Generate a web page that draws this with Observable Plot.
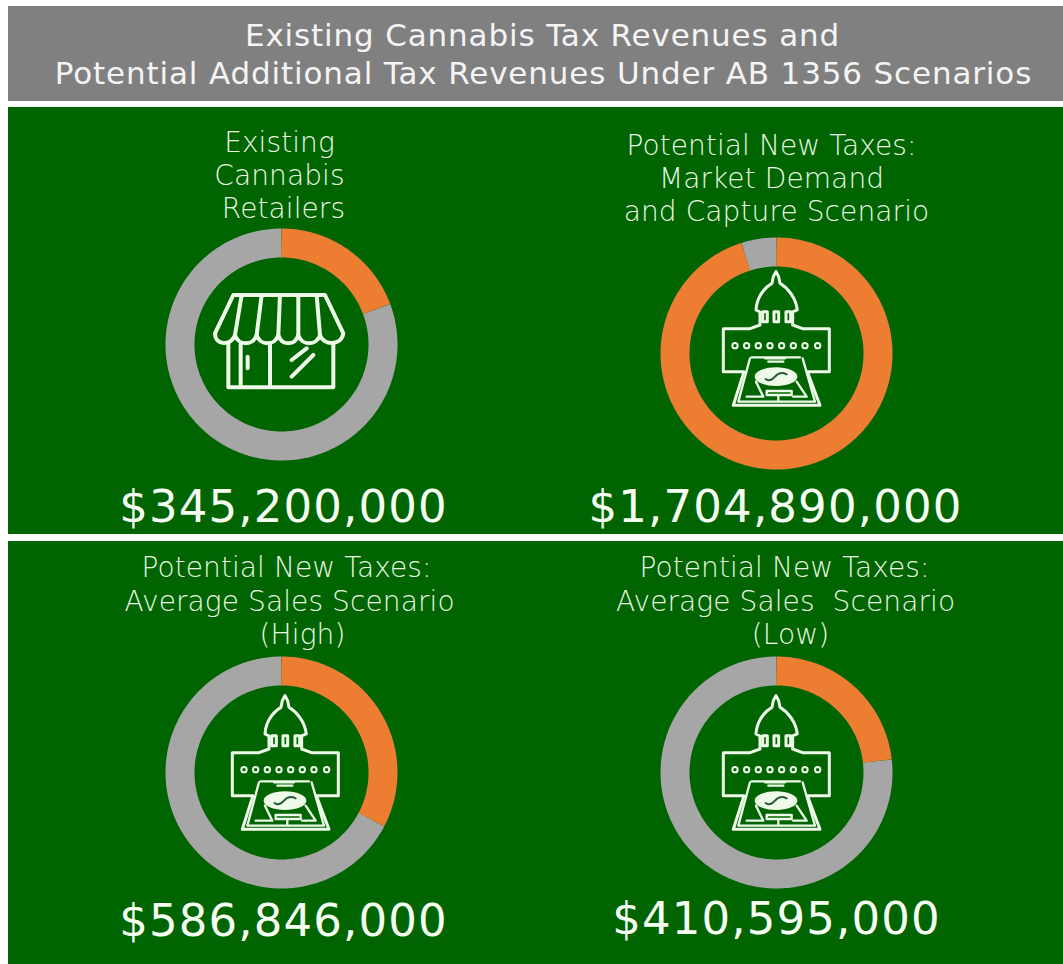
<!DOCTYPE html>
<html>
<head>
<meta charset="utf-8">
<script src="https://cdn.jsdelivr.net/npm/d3@7"></script>
<script src="https://cdn.jsdelivr.net/npm/@observablehq/plot@0.6"></script>
<style>
html,body{margin:0;padding:0;background:#fff}svg{display:block}
.ttl text{letter-spacing:0.85px}
.sub text{letter-spacing:0.1px}
.amt text{letter-spacing:1.15px}
</style>
</head>
<body>
<script>
// Data
const panels = ["Existing Cannabis Retailers", "Market Demand and Capture", "Average Sales (High)", "Average Sales (Low)"];
const amounts = ["$345,200,000", "$1,704,890,000", "$586,846,000", "$410,595,000"];
const orangeShare = [0.193, 0.951, 0.327, 0.232];
const titleLines = ["Existing Cannabis Tax Revenues and", "Potential Additional Tax Revenues Under AB 1356 Scenarios"];
const labelLines = [
  ["Existing", "Cannabis", "Retailers"],
  ["Potential New Taxes:", "Market Demand", "and Capture Scenario"],
  ["Potential New Taxes:", "Average Sales Scenario", "(High)"],
  ["Potential New Taxes:", "Average Sales  Scenario", "(Low)"]
];

// Layout
const W = 1063, H = 964;
const centers = [[281, 344], [776, 353], [281, 772], [776, 772]];
const labelPos = [
  [[279, 143], [279, 176], [283, 209]],
  [[771, 146], [771, 179], [776, 212]],
  [[286, 568], [289, 602], [302, 635]],
  [[784, 568], [785, 602], [790, 635]]
];
const amountPos = [[283, 507], [775, 507], [283, 921], [776, 919]];
const titlePos = [[542, 36], [543, 74]];
const ringR = 101.5, ringW = 29;

function arcRows(i, from, to, group) {
  const [cx, cy] = centers[i], n = Math.max(2, Math.ceil((to - from) * 360));
  return d3.range(n + 1).map(k => {
    const a = (from + (to - from) * k / n) * 2 * Math.PI;
    return {x: cx + ringR * Math.sin(a), y: cy - ringR * Math.cos(a), group};
  });
}
const grayArcs = panels.flatMap((p, i) => arcRows(i, orangeShare[i], 1, p + " rest"));
const orangeArcs = panels.flatMap((p, i) => arcRows(i, 0, orangeShare[i], p + " share"));

const bands = [
  {x1: 8, x2: W, y1: 6, y2: 101, fill: "#808080"},
  {x1: 8, x2: W, y1: 107, y2: 534, fill: "#006400"},
  {x1: 8, x2: W, y1: 541, y2: H, fill: "#006400"}
];
const textRows = (lines, pos) => lines.map((t, i) => ({t, x: pos[i][0], y: pos[i][1]}));
const subtitleRows = labelLines.flatMap((l, i) => textRows(l, labelPos[i]));

const storePaths = [
  "M250 225H525L580 340C575 378 520 378 510 345C500 378 455 378 445 345C435 378 395 378 385 345C375 378 330 378 320 345C310 378 265 378 255 345C245 378 195 378 195 340Z",
  "M275 225L255 345M335 225L320 345M390 225L385 345M445 225L445 345M500 225L510 345",
  "M235 370V502H550V370M272 372V500M360 372V500M293 410V445M425 420L470 385M425 470L490 405"
];
const capitolPaths = [
  "M378 125L370 140L366 160C340 175 320 205 318 240L330 246V285L300 296H220V425H282L250 526H510L472 425H538V296H458L428 285V246L442 240C438 205 415 175 390 160L386 140Z",
  "M338 245V275H352V245ZM372 245V275H386V245ZM408 245V275H422V245Z",
  "M305 382H450M345 385H405M355 395H400M300 385L265 515H495L458 385M290 500H340L318 455M350 483H425V495H350ZM385 495V510M430 500H470L440 455"
];
const capitolDots = [255, 290, 325, 360, 395, 430, 465, 503];

function iconMark() {
  const svg = d3.create("svg:g").attr("fill", "none").attr("stroke", "#eefbe8").attr("stroke-linejoin", "round").attr("stroke-linecap", "round");
  const store = svg.append("g").attr("transform", "translate(150,220) scale(0.3333)").attr("stroke-width", 12);
  storePaths.forEach(d => store.append("path").attr("d", d));
  [[0, 0], [-491, 424], [0, 424]].forEach(([dx, dy]) => {
    const g = svg.append("g").attr("transform", `translate(${650 + dx},${230 + dy}) scale(0.3333)`);
    capitolPaths.forEach((d, i) => g.append("path").attr("d", d).attr("stroke-width", i === 2 ? 7 : 9));
    capitolDots.forEach(x => g.append("circle").attr("cx", x).attr("cy", 347).attr("r", 8).attr("stroke-width", 6));
    g.append("ellipse").attr("cx", 378).attr("cy", 440).attr("rx", 64).attr("ry", 28).attr("fill", "#eefbe8").attr("stroke", "none");
    g.append("path").attr("d", "M347 447C358 456 368 448 375 440C382 432 395 425 410 433").attr("stroke", "#2a5a3a").attr("stroke-width", 6);
  });
  return svg.node();
}

const font = "DejaVu Sans, Verdana, sans-serif";
const chart = Plot.plot({
  width: W, height: H,
  margin: 0,
  x: {domain: [0, W], range: [0, W], axis: null},
  y: {domain: [0, H], range: [0, H], axis: null},
  style: {background: "#fff", fontFamily: font},
  marks: [
    Plot.rect(bands, {x1: "x1", x2: "x2", y1: "y1", y2: "y2", fill: "fill"}),
    Plot.line(grayArcs, {x: "x", y: "y", z: "group", stroke: "#a6a6a6", strokeWidth: ringW, strokeLinecap: "butt", strokeLinejoin: "round"}),
    Plot.line(orangeArcs, {x: "x", y: "y", z: "group", stroke: "#ed7d31", strokeWidth: ringW, strokeLinecap: "butt", strokeLinejoin: "round"}),
    iconMark,
    Plot.text(textRows(titleLines, titlePos), {x: "x", y: "y", text: "t", fill: "#f4f4f4", fontSize: 31, fontFamily: font, lineAnchor: "middle", className: "ttl"}),
    Plot.text(subtitleRows, {x: "x", y: "y", text: "t", fill: "#e8f8e2", fontSize: 28, fontWeight: 200, fontFamily: font, lineAnchor: "middle", className: "sub"}),
    Plot.text(amounts.map((t, i) => ({t, x: amountPos[i][0], y: amountPos[i][1]})), {x: "x", y: "y", text: "t", fill: "#f6fff2", fontSize: 45, fontFamily: font, lineAnchor: "middle", className: "amt"})
  ]
});
document.body.append(chart);
</script>
</body>
</html>
